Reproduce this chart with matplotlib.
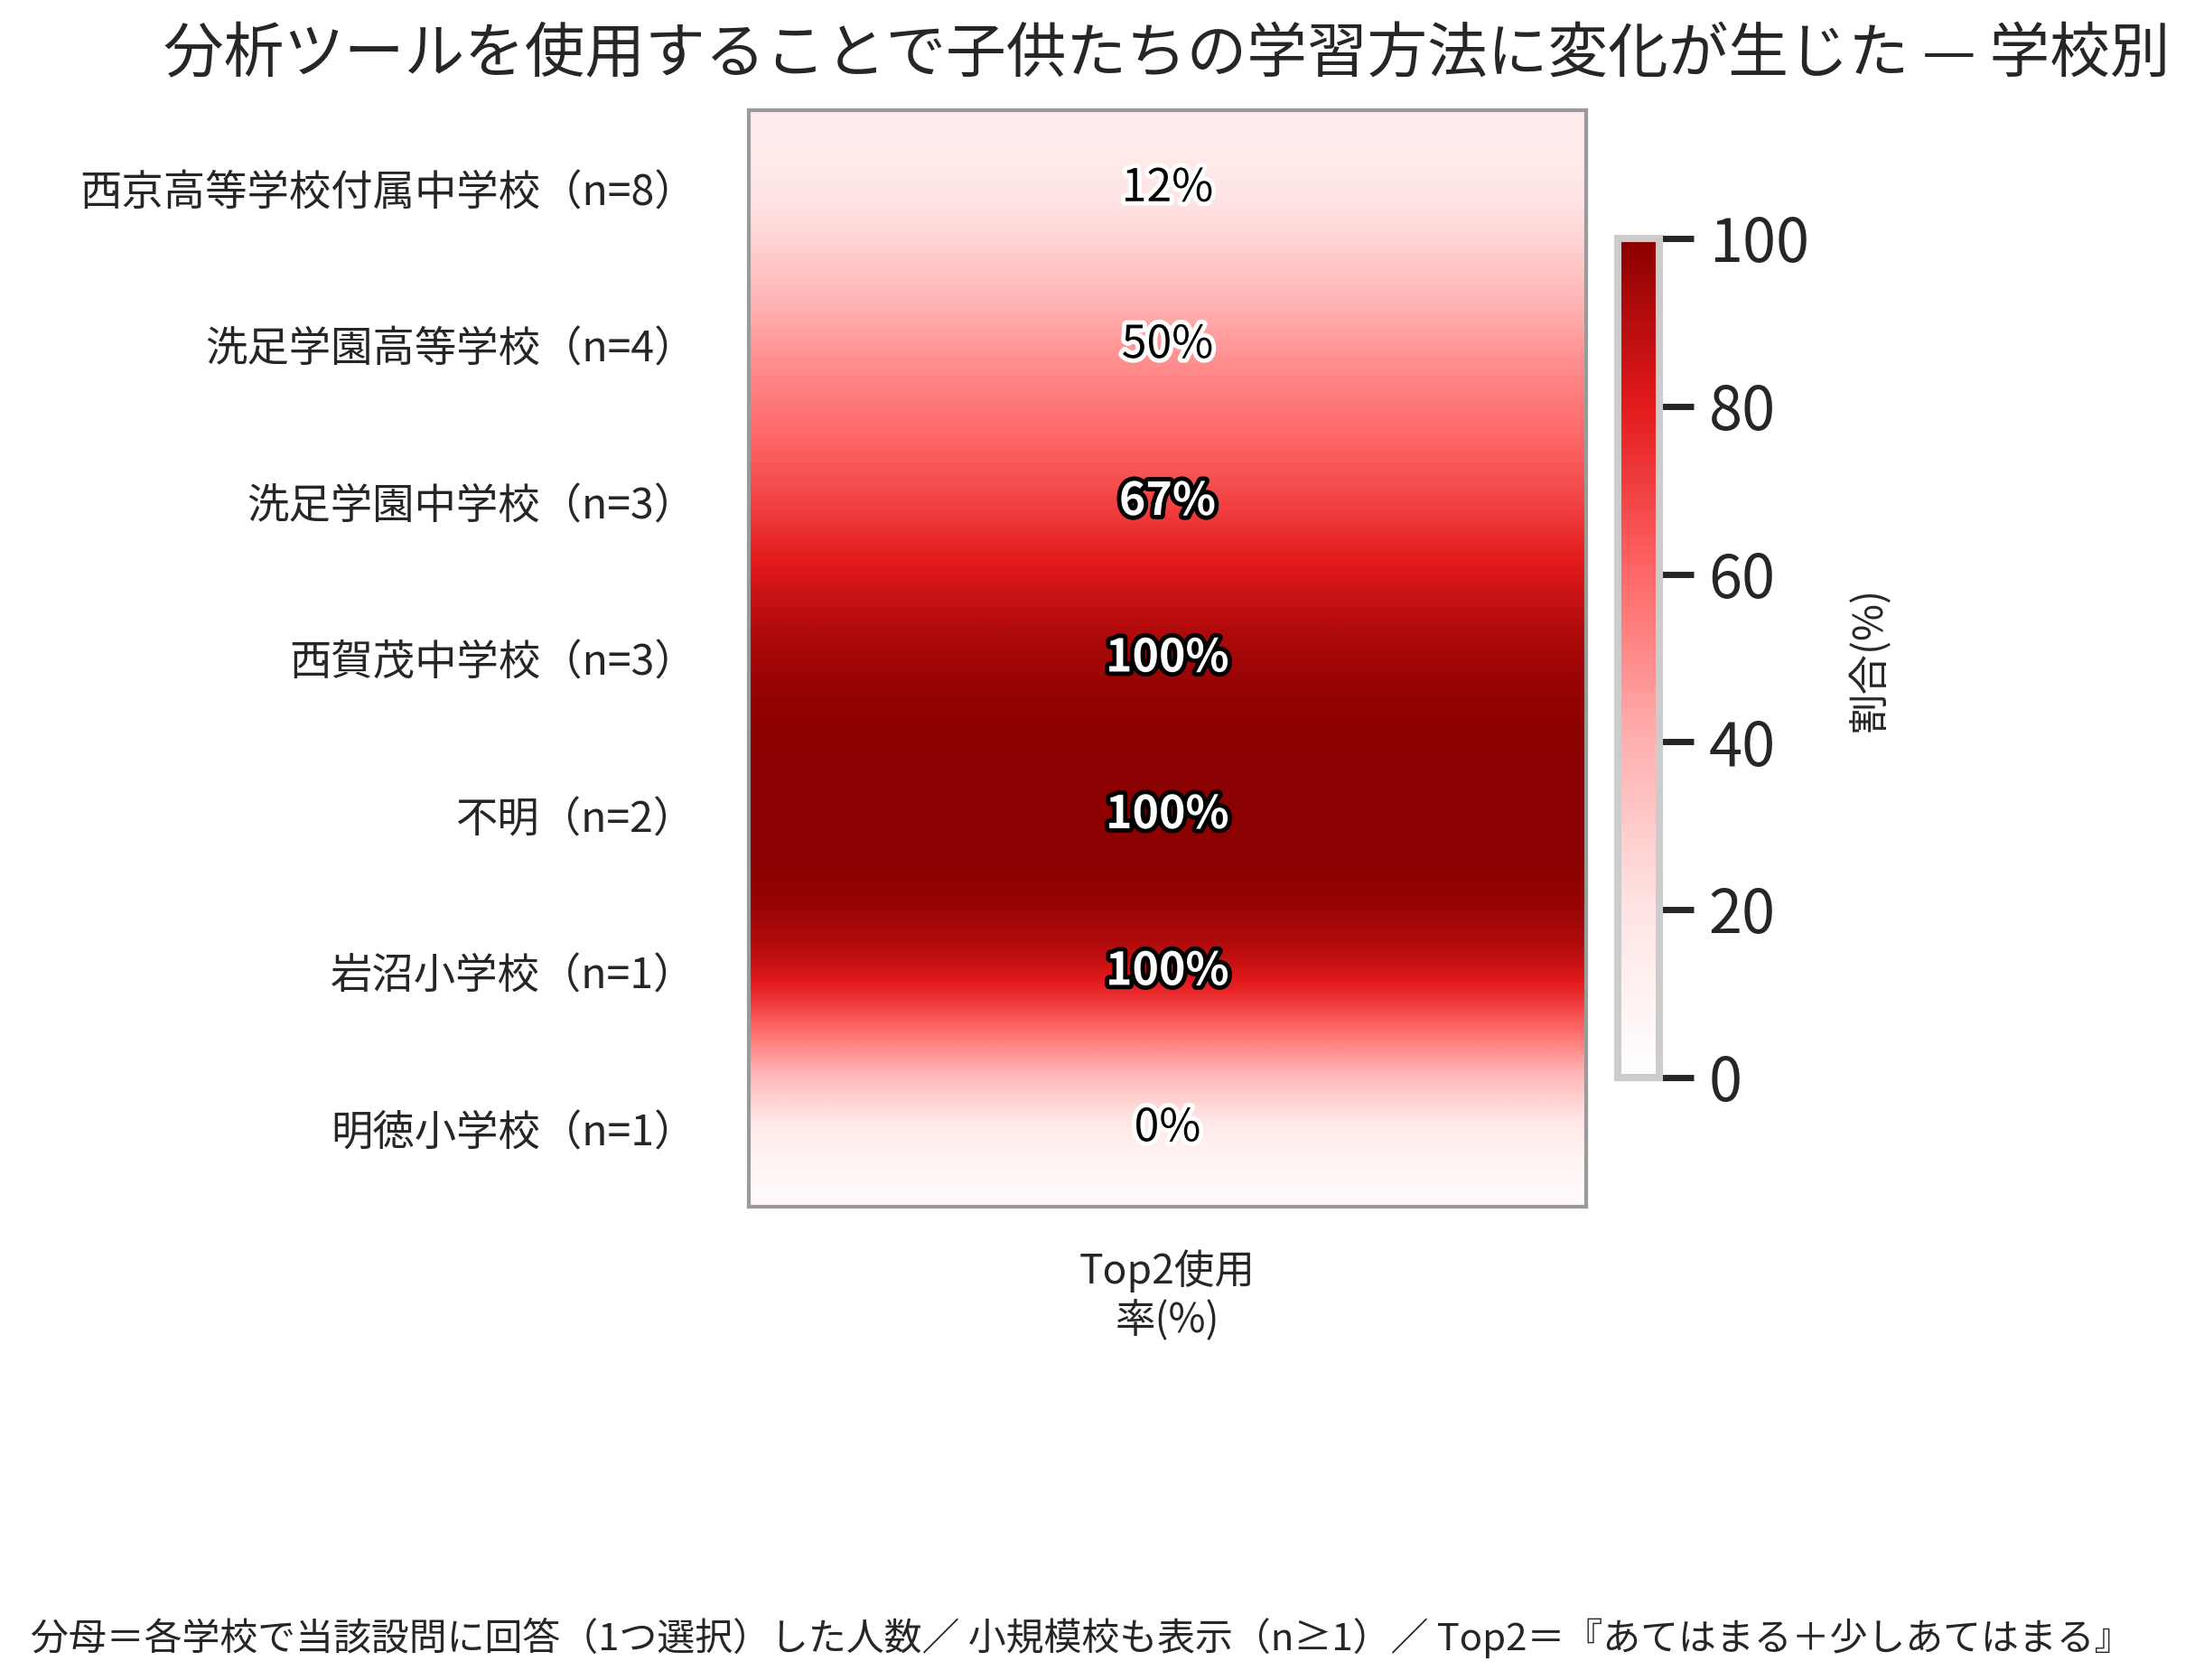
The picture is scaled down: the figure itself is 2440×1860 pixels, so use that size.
import numpy as np
import matplotlib
matplotlib.use("Agg")
import matplotlib.pyplot as plt
from matplotlib.colors import LinearSegmentedColormap
import matplotlib.patheffects as pe

plt.rcParams['font.family'] = ['Noto Sans CJK JP', 'DejaVu Sans']

# ---- data ----
schools = ["西京高等学校付属中学校", "洗足学園高等学校", "洗足学園中学校",
           "西賀茂中学校", "不明", "岩沼小学校", "明徳小学校"]
n_resp = [8, 4, 3, 3, 2, 1, 1]
top2_pct = [12.5, 50.0, 66.7, 100.0, 100.0, 100.0, 0.0]
column_label = "Top2使用\n率(%)"
cbar_ticks = [0, 20, 40, 60, 80, 100]
cbar_label = "割合(%)"
title = "分析ツールを使用することで子供たちの学習方法に変化が生じた — 学校別"
footer = ("分母＝各学校で当該設問に回答（1つ選択）した人数／ 小規模校も表示（n≥1）／ "
          "Top2＝『あてはまる＋少しあてはまる』")

TXT = "#262626"
W, H = 2440, 1860
DPI = 200
fig = plt.figure(figsize=(W / DPI, H / DPI), dpi=DPI)

ax = fig.add_axes([829 / W, 1 - 1336 / H, 927 / W, 1214 / H])

cmap = LinearSegmentedColormap.from_list(
    "reds_custom",
    [(0.0, "#ffffff"), (0.2, "#ffe4e4"), (0.4, "#ffb0b0"),
     (0.6, "#ff6868"), (0.8, "#e31a1c"), (1.0, "#8b0000")])

data = np.array(top2_pct).reshape(-1, 1)
im = ax.imshow(data, cmap=cmap, vmin=0, vmax=100, aspect='auto',
               interpolation='bicubic', interpolation_stage='data')

ax.set_yticks(range(len(schools)))
ax.set_yticklabels([f"{s}（n={n}）" for s, n in zip(schools, n_resp)],
                   fontsize=16.7, color=TXT)
ax.set_xticks([0])
ax.set_xticklabels([column_label], fontsize=16, color=TXT)
ax.tick_params(axis='both', length=0)
ax.tick_params(axis='y', pad=21)
ax.tick_params(axis='x', pad=17)
for sp in ax.spines.values():
    sp.set_color('#9a9a9a')
    sp.set_linewidth(1.5)

for i, v in enumerate(top2_pct):
    if v >= 60:
        ax.text(0, i, f"{v:.0f}%", ha='center', va='center', fontsize=18,
                color='white', fontweight='bold',
                path_effects=[pe.withStroke(linewidth=3.5, foreground='black')])
    else:
        ax.text(0, i, f"{v:.0f}%", ha='center', va='center', fontsize=18,
                color='black',
                path_effects=[pe.withStroke(linewidth=3.5, foreground='white')])

cax = fig.add_axes([1791 / W, 1 - 1193 / H, 46 / W, 929 / H])
cb = fig.colorbar(im, cax=cax, ticks=cbar_ticks)
cb.outline.set_edgecolor('#cccccc')
cb.outline.set_linewidth(2.9)
cax.tick_params(length=13.7, width=2.5, color=TXT, labelsize=24,
                labelcolor=TXT, pad=6)

fig.text(2070 / W, 1 - 730 / H, cbar_label, rotation=90, fontsize=16,
         ha='center', va='center', color=TXT)
fig.text(1292 / W, 1 - 62 / H, title, fontsize=24, ha='center', va='center',
         color=TXT)
fig.text(34 / W, 1 - 1813 / H, footer, fontsize=15.1, ha='left', va='center',
         color=TXT)

fig.savefig("out.png", dpi=DPI)
